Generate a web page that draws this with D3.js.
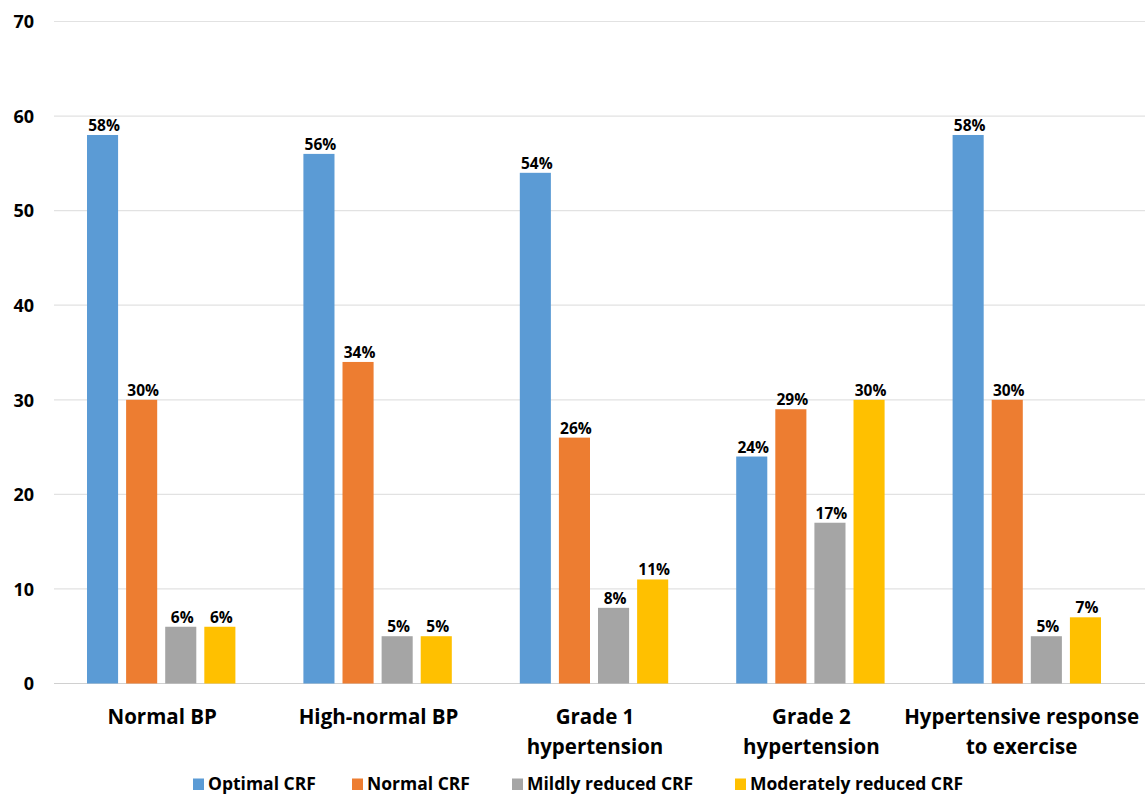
<!DOCTYPE html>
<html>
<head>
<meta charset="utf-8">
<script src="https://cdn.jsdelivr.net/npm/d3@7"></script>
<style>
  html, body { margin: 0; padding: 0; background: #fff; }
  svg { display: block; font-family: "Open Sans", sans-serif; font-weight: bold; }
</style>
</head>
<body>
<svg id="chart" width="1145" height="795"></svg>
<script>
// Blood-pressure groups (x axis), two-line labels
const categories = [
  ["Normal BP"],
  ["High-normal BP"],
  ["Grade 1", "hypertension"],
  ["Grade 2", "hypertension"],
  ["Hypertensive response", "to exercise"]
];
const seriesNames = ["Optimal CRF", "Normal CRF", "Mildly reduced CRF", "Moderately reduced CRF"];
const optimalCRF  = [58, 56, 54, 24, 58];
const normalCRF   = [30, 34, 26, 29, 30];
const mildlyCRF   = [6, 5, 8, 17, 5];
const moderateCRF = [6, 5, 11, 30, 7];
const yTicks = [0, 10, 20, 30, 40, 50, 60, 70];
const colors = ["#5b9bd5", "#ed7d31", "#a5a5a5", "#ffc000"];

const series = [optimalCRF, normalCRF, mildlyCRF, moderateCRF];

const svg = d3.select("#chart");
const plotLeft = 54, plotRight = 1136, plotTop = 21.5, plotBottom = 683.5;

const x0 = d3.scaleBand().domain(d3.range(categories.length)).range([plotLeft, plotRight]).paddingInner(0).paddingOuter(0);
const x1 = d3.scaleBand().domain(d3.range(series.length)).range([33, x0.bandwidth() - 35]).paddingInner(0.205).paddingOuter(0);
const y = d3.scaleLinear().domain([0, 70]).range([plotBottom, plotTop]);

// Horizontal gridlines
svg.append("g")
  .selectAll("line")
  .data(yTicks)
  .join("line")
  .attr("x1", plotLeft).attr("x2", 1145)
  .attr("y1", d => y(d)).attr("y2", d => y(d))
  .attr("stroke", d => d === 0 ? "#d0d0d0" : "#e2e2e2")
  .attr("stroke-width", 1.2);

// Y axis tick labels
const yAxis = d3.axisLeft(y).tickValues(yTicks).tickSize(0).tickPadding(0);
const yg = svg.append("g").attr("transform", `translate(34,0)`).call(yAxis);
yg.select(".domain").remove();
yg.selectAll("text")
  .attr("font-family", "'Open Sans', sans-serif")
  .attr("font-weight", "bold")
  .attr("font-size", 18)
  .attr("fill", "#000")
  .attr("dy", "0.35em");

// Bars and value labels
const groups = svg.append("g").selectAll("g")
  .data(categories.map((c, i) => i))
  .join("g")
  .attr("transform", i => `translate(${x0(i)},0)`);

groups.selectAll("rect")
  .data(i => series.map((s, k) => ({ k, v: s[i] })))
  .join("rect")
  .attr("x", d => x1(d.k))
  .attr("width", x1.bandwidth())
  .attr("y", d => y(d.v))
  .attr("height", d => y(0) - y(d.v))
  .attr("fill", d => colors[d.k]);

groups.selectAll("text.val")
  .data(i => series.map((s, k) => ({ k, v: s[i] })))
  .join("text")
  .attr("class", "val")
  .attr("x", d => x1(d.k) + x1.bandwidth() / 2 + 1.5)
  .attr("y", d => y(d.v) - 4)
  .attr("text-anchor", "middle")
  .attr("font-size", 15.5)
  .attr("fill", "#000")
  .text(d => d.v + "%");

// Category labels (kept inside the right edge of the plot)
const catG = svg.append("g");
categories.forEach((lines, i) => {
  const t = catG.append("text")
    .attr("y", 724)
    .attr("text-anchor", "middle")
    .attr("font-size", 20.5)
    .attr("fill", "#000");
  const spans = lines.map((ln, j) => t.append("tspan")
    .attr("dy", j === 0 ? 0 : 30)
    .text(ln));
  const widest = d3.max(spans, s => s.node().getComputedTextLength());
  let cx = x0(i) + x0.bandwidth() / 2;
  cx = Math.min(cx, 1139 - widest / 2);
  spans.forEach(s => s.attr("x", cx));
});

// Legend
const legendX = [193, 352, 512, 735];
const lg = svg.append("g").selectAll("g")
  .data(seriesNames)
  .join("g")
  .attr("transform", (d, i) => `translate(${legendX[i]},790)`);
lg.append("rect")
  .attr("x", 0).attr("y", -11.5)
  .attr("width", 11).attr("height", 11.5)
  .attr("fill", (d, i) => colors[i]);
lg.append("text")
  .attr("x", 15).attr("y", 0)
  .attr("font-size", 17.5)
  .attr("fill", "#000")
  .text(d => d);
</script>
</body>
</html>
